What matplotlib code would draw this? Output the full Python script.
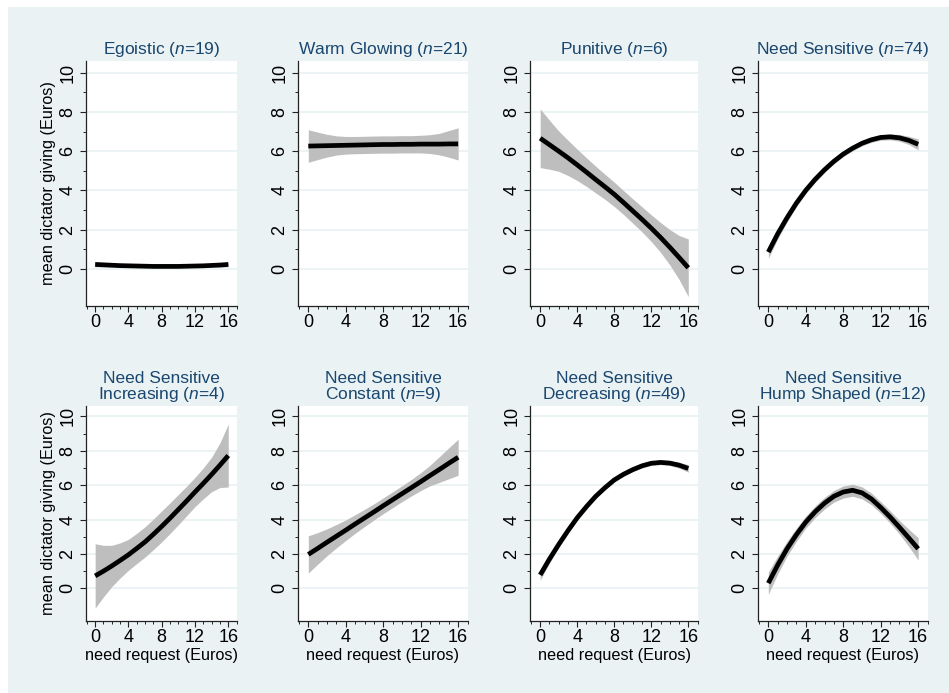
import numpy as np
import matplotlib
matplotlib.use("Agg")
import matplotlib.pyplot as plt
from matplotlib.patches import Rectangle
from matplotlib.ticker import MultipleLocator

plt.rcParams['font.family'] = ['Liberation Sans', 'DejaVu Sans']
plt.rcParams['mathtext.fontset'] = 'custom'
plt.rcParams['mathtext.rm'] = 'Liberation Sans'
plt.rcParams['mathtext.it'] = 'Liberation Sans:italic'

# need request (Euros)
request = [0, 1, 2, 3, 4, 5, 6, 7, 8, 9, 10, 11, 12, 13, 14, 15, 16]

# local polynomial fit of mean giving and half width of the 95% CI
ego_fit = [0.22, 0.2, 0.18, 0.16, 0.15, 0.14, 0.13, 0.12, 0.12, 0.12, 0.12, 0.13, 0.14, 0.15, 0.17, 0.19, 0.22]
ego_ci = [0.12, 0.1, 0.08, 0.07, 0.06, 0.06, 0.05, 0.05, 0.05, 0.05, 0.05, 0.06, 0.06, 0.07, 0.08, 0.1, 0.12]

warm_fit = [6.26, 6.27, 6.28, 6.29, 6.30, 6.31, 6.32, 6.33, 6.34, 6.34, 6.35, 6.35, 6.36, 6.36, 6.36, 6.37, 6.37]
warm_ci = [0.83, 0.7, 0.58, 0.49, 0.45, 0.44, 0.44, 0.44, 0.44, 0.44, 0.44, 0.44, 0.45, 0.48, 0.55, 0.68, 0.82]

pun_fit = [6.66, 6.33, 6.0, 5.66, 5.3, 4.93, 4.55, 4.18, 3.8, 3.38, 2.95, 2.52, 2.07, 1.6, 1.1, 0.58, 0.05]
pun_ci = [1.5, 1.25, 1.03, 0.9, 0.8, 0.73, 0.68, 0.64, 0.62, 0.61, 0.62, 0.64, 0.68, 0.76, 0.9, 1.12, 1.47]

ns_fit = [0.85, 1.78, 2.6, 3.35, 4.0, 4.56, 5.05, 5.48, 5.85, 6.15, 6.4, 6.58, 6.7, 6.73, 6.68, 6.55, 6.35]
ns_ci = [0.32, 0.26, 0.21, 0.18, 0.16, 0.15, 0.14, 0.13, 0.13, 0.13, 0.13, 0.13, 0.14, 0.15, 0.17, 0.21, 0.28]

inc_fit = [0.72, 1.0, 1.3, 1.62, 1.95, 2.32, 2.7, 3.14, 3.6, 4.08, 4.58, 5.08, 5.6, 6.1, 6.62, 7.16, 7.72]
inc_ci = [1.87, 1.5, 1.2, 1.02, 0.9, 0.88, 0.88, 0.89, 0.9, 0.89, 0.88, 0.86, 0.85, 0.9, 1.0, 1.3, 1.83]

const_fit = [1.97, 2.32, 2.68, 3.03, 3.38, 3.74, 4.09, 4.44, 4.8, 5.15, 5.5, 5.85, 6.2, 6.56, 6.91, 7.27, 7.62]
const_ci = [1.08, 0.92, 0.78, 0.68, 0.6, 0.54, 0.5, 0.47, 0.46, 0.46, 0.46, 0.48, 0.52, 0.6, 0.75, 0.9, 1.05]

dec_fit = [0.78, 1.7, 2.55, 3.35, 4.1, 4.75, 5.35, 5.85, 6.3, 6.63, 6.9, 7.12, 7.27, 7.32, 7.28, 7.16, 6.97]
dec_ci = [0.3, 0.24, 0.19, 0.16, 0.14, 0.13, 0.12, 0.12, 0.12, 0.12, 0.12, 0.12, 0.12, 0.13, 0.14, 0.17, 0.22]

hump_fit = [0.3, 1.35, 2.3, 3.12, 3.85, 4.45, 4.95, 5.35, 5.6, 5.7, 5.55, 5.2, 4.7, 4.15, 3.55, 2.93, 2.3]
hump_ci = [0.65, 0.52, 0.43, 0.38, 0.35, 0.34, 0.34, 0.34, 0.35, 0.35, 0.35, 0.34, 0.34, 0.36, 0.4, 0.5, 0.65]

titles = [r'Egoistic ($\mathit{n}$=$\mathit{19}$)',
          r'Warm Glowing ($\mathit{n}$=$\mathit{21}$)',
          r'Punitive ($\mathit{n}$=$\mathit{6}$)',
          r'Need Sensitive ($\mathit{n}$=$\mathit{74}$)',
          'Need Sensitive\n' + r'Increasing ($\mathit{n}$=$\mathit{4}$)',
          'Need Sensitive\n' + r'Constant ($\mathit{n}$=$\mathit{9}$)',
          'Need Sensitive\n' + r'Decreasing ($\mathit{n}$=$\mathit{49}$)',
          'Need Sensitive\n' + r'Hump Shaped ($\mathit{n}$=$\mathit{12}$)']
fits = [ego_fit, warm_fit, pun_fit, ns_fit, inc_fit, const_fit, dec_fit, hump_fit]
cis = [ego_ci, warm_ci, pun_ci, ns_ci, inc_ci, const_ci, dec_ci, hump_ci]

W, H = 949, 693
bg = '#EAF2F3'
navy = '#1A476F'

fig = plt.figure(figsize=(W / 100, H / 100), dpi=100, facecolor='white')
fig.patches.append(Rectangle((8 / W, 0), 1, 1 - 7 / H, transform=fig.transFigure,
                             facecolor=bg, edgecolor='none', zorder=-10))

# axes boxes in pixels: left, right, top, bottom
cols = [(86, 237), (298, 468), (530, 698), (758, 928)]
rows = [(61, 306), (406, 621)]

x = np.array(request)
for i in range(8):
    r, c = divmod(i, 4)
    l, rt = cols[c]
    t, b = rows[r]
    ax = fig.add_axes([l / W, 1 - b / H, (rt - l) / W, (b - t) / H])
    ax.set_facecolor('white')
    fit = np.array(fits[i])
    ci = np.array(cis[i])
    ax.fill_between(x, fit - ci, fit + ci, color='#BEBEBE', lw=0, zorder=2)
    ax.plot(x, fit, color='black', lw=3.4, solid_capstyle='butt', zorder=3)

    ax.set_xlim(-1.1, 17.05)
    ax.set_ylim(-1.9, 10.6)
    ax.xaxis.set_major_locator(MultipleLocator(4))
    ax.xaxis.set_minor_locator(MultipleLocator(1))
    ax.set_yticks([0, 2, 4, 6, 8, 10])
    ax.set_yticks([1, 3, 5, 7, 9], minor=True)
    ax.grid(axis='y', which='major', color=bg, lw=1.3, zorder=1)
    for s in ['top', 'right']:
        ax.spines[s].set_visible(False)
    for s in ['left', 'bottom']:
        ax.spines[s].set_linewidth(0.9)
        ax.spines[s].set_color('#222222')
    ax.tick_params(which='major', length=4, width=0.8, color='#222222', labelsize=13, pad=2)
    ax.tick_params(which='minor', length=2.2, width=0.7, color='#222222')
    ax.tick_params(axis='y', which='major', pad=3)
    for lab in ax.get_yticklabels():
        lab.set_rotation(90)
        lab.set_va('center')

    ax.set_title(titles[i], color=navy, fontsize=12.5, pad=5, linespacing=0.95)
    if c == 0:
        ax.set_ylabel('mean dictator giving (Euros)', fontsize=11.7, labelpad=2)
    if r == 1:
        ax.set_xlabel('need request (Euros)', fontsize=11.7, labelpad=1)

fig.savefig('out.png', dpi=100, facecolor='white')
